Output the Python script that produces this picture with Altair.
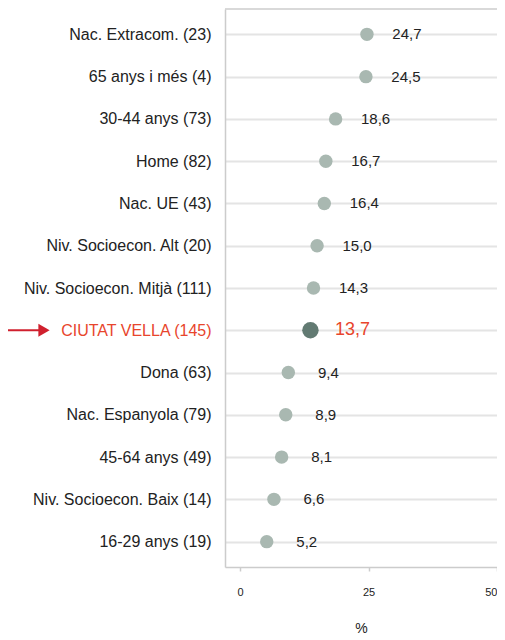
import altair as alt
import pandas as pd

categories = [
    "Nac. Extracom. (23)", "65 anys i més (4)", "30-44 anys (73)", "Home (82)",
    "Nac. UE (43)", "Niv. Socioecon. Alt (20)", "Niv. Socioecon. Mitjà (111)",
    "CIUTAT VELLA (145)", "Dona (63)", "Nac. Espanyola (79)", "45-64 anys (49)",
    "Niv. Socioecon. Baix (14)", "16-29 anys (19)",
]
values = [24.7, 24.5, 18.6, 16.7, 16.4, 15.0, 14.3, 13.7, 9.4, 8.9, 8.1, 6.6, 5.2]
highlight = "CIUTAT VELLA (145)"
x_ticks = [0, 25, 50]

df = pd.DataFrame({
    "cat": categories,
    "val": values,
    "lab": [f"{v:.1f}".replace(".", ",") for v in values],
    "hl": [c == highlight for c in categories],
})

FONT = "Liberation Sans"
W, H = 272, 558

yenc = alt.Y("cat:N", sort=categories, title=None,
             scale=alt.Scale(type="point", padding=0.6),
             axis=alt.Axis(domainColor="#cccccc", domainWidth=1.5, ticks=False,
                           grid=True, gridColor="#e4e4e4", gridWidth=2,
                           labelPadding=14, labelFont=FONT, labelFontSize=16,
                           labelLimit=300,
                           labelColor=alt.condition(f"datum.value == '{highlight}'",
                                                    alt.value("#e8452c"), alt.value("#222222"))))
xenc = alt.X("val:Q", title="%",
             scale=alt.Scale(domain=[-2.92, 50], nice=False, zero=False),
             axis=alt.Axis(values=x_ticks, grid=False, domainColor="#cccccc", domainWidth=1.5,
                           tickColor="#cccccc", tickSize=4, tickWidth=1.5,
                           labelPadding=15, labelFont=FONT, labelFontSize=11, labelFlush=5,
                           labelColor="#222222", titleFont=FONT, titleFontSize=14,
                           titleFontWeight="normal", titlePadding=24, titleColor="#222222"))

base = alt.Chart(df)

dots = base.mark_circle(opacity=1).encode(
    x=xenc, y=yenc,
    color=alt.condition("datum.hl", alt.value("#627a72"), alt.value("#a9b8b1")),
    size=alt.condition("datum.hl", alt.value(270), alt.value(180)),
)

labels = base.transform_filter("!datum.hl").mark_text(
    align="center", baseline="middle", dx=40, font=FONT, fontSize=15, color="#222222"
).encode(x="val:Q", y=alt.Y("cat:N", sort=categories), text="lab:N")

hl_label = base.transform_filter("datum.hl").mark_text(
    align="center", baseline="middle", dx=42, font=FONT, fontSize=18, color="#e8452c"
).encode(x="val:Q", y=alt.Y("cat:N", sort=categories), text="lab:N")

top_border = alt.Chart(pd.DataFrame({"a": [0]})).mark_rule(
    color="#cccccc", strokeWidth=1.5
).encode(y=alt.value(0), x=alt.value(0), x2=alt.value(W))

arr_df = pd.DataFrame({"cat": [highlight]})
arrow_line = alt.Chart(arr_df).mark_rule(color="#d0202e", strokeWidth=2).encode(
    y=alt.Y("cat:N", sort=categories), x=alt.value(-220), x2=alt.value(-186)
)
arrow_head = alt.Chart(arr_df).mark_point(
    shape="triangle-right", filled=True, color="#d0202e", opacity=1, size=170
).encode(y=alt.Y("cat:N", sort=categories), x=alt.value(-181))

chart = alt.layer(top_border, dots, labels, hl_label, arrow_line, arrow_head).properties(
    width=W, height=H,
    autosize=alt.AutoSizeParams(type="none"),
    padding={"left": 217, "top": 1, "right": 0, "bottom": 74},
).configure_view(stroke=None)

chart.save("out.html", embed_options={"renderer": "svg", "actions": False})
